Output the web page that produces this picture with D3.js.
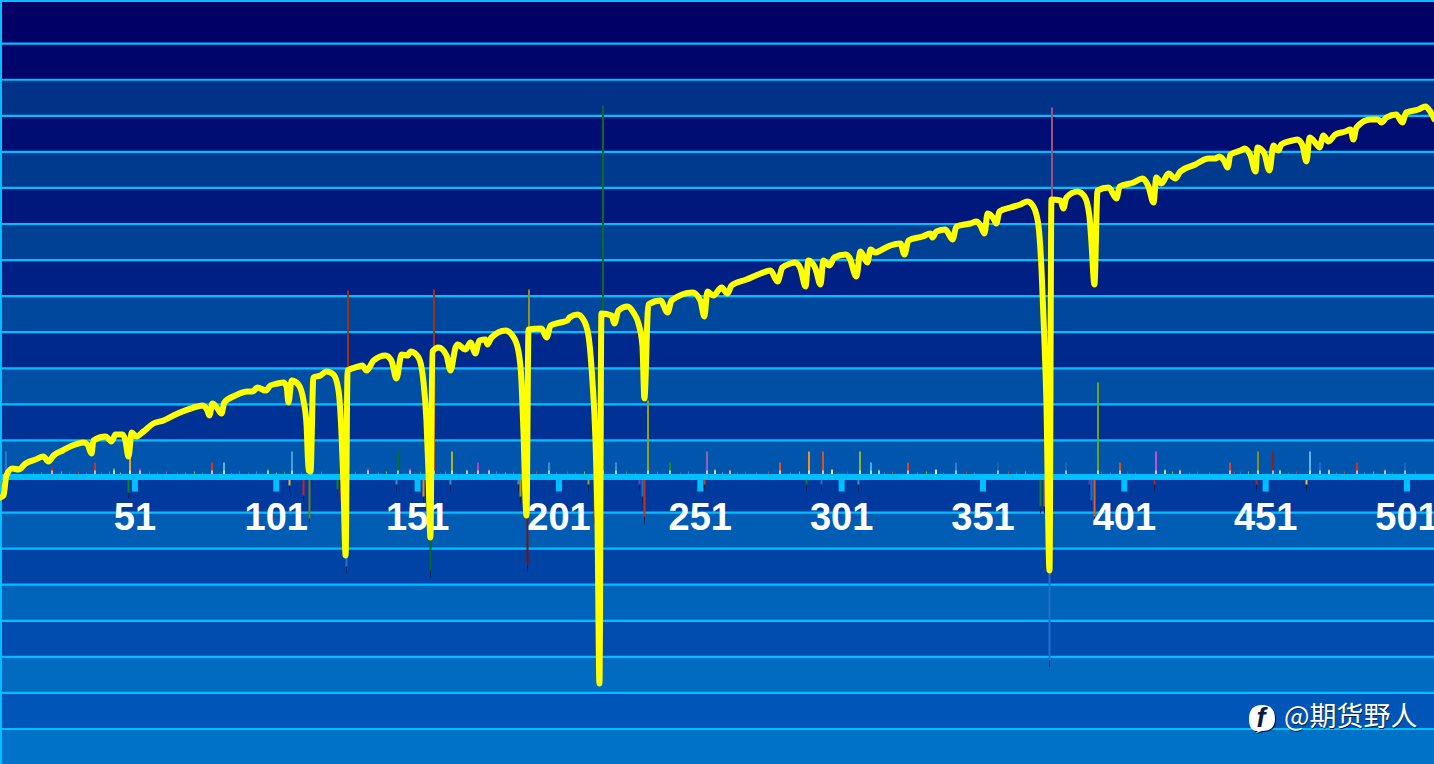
<!DOCTYPE html>
<html><head><meta charset="utf-8">
<script src="https://cdn.jsdelivr.net/npm/d3@7/dist/d3.min.js"></script>
<style>html,body{margin:0;padding:0;background:#003;overflow:hidden}svg{display:block}</style>
</head><body><svg id="c" width="1434" height="764"></svg>
<script>
const linePos=[2.6,3.7,4.7,6.9,9,11.5,15,17.8,19.6,21.4,24.6,28.1,32,33.4,34.8,35.5,39.8,41.9,43.3,45.8,46.8,47.9,49,50.7,53.2,56.7,60.3,63.8,67,72.3,74.1,75.8,76.5,77.6,79.4,80.8,81.8,85.7,90,91.8,93.5,96.4,98.1,100.6,102.7,103.8,104.5,105.6,108,109.8,110.9,111.6,112.3,113.3,115.8,117.9,120.4,122.2,123.2,123.9,124.7,125.4,129.3,130.6,132.1,134.6,138.8,140.9,142.7,144.5,146.6,147.7,150.5,152.2,153.3,154,154.7,155.4,157.6,160.4,161.8,163.6,164.3,167.1,168.9,170.6,172,174.2,174.9,176.3,181.3,183.7,185.8,186.9,187.6,188.7,189.4,194,195.8,197.2,200.7,203.2,203.9,206.7,208.8,210.6,212,213.1,213.8,214.5,215.2,218.8,219.8,221.2,224.4,226.5,228.3,229.7,230.4,231.8,236.1,238.6,240,247.4,250.2,251.6,252.7,254.8,257.7,259.8,261.2,266.5,271.5,275,277.5,279.2,282.1,283.8,285.6,287.4,288.4,290.9,292.7,293.7,295.9,297.6,301.5,302.9,305.4,306.8,309.3,310.4,312.1,313.9,317.4,321,322.4,323.8,328.8,331.6,332.3,333.7,336.9,339.4,340.8,345.7,347.9,349.3,350.7,351.8,353.9,354.9,356,359.9,363.4,365.9,368,369.8,370.9,371.9,372.6,373.7,374.4,377.6,378.6,379.7,383.6,386.1,387.8,388.5,389.6,390.7,394.6,397.4,398.5,403.4,406.6,408.7,410.5,411.5,413.3,415.8,418.2,420,425.3,429.9,432.4,433.8,435.6,436.7,437.7,441.3,442.7,444.8,446.6,447.3,449.7,451.5,452.9,454.7,455.7,459.7,461.4,463.2,464.6,465.7,468.5,469.2,470.6,472.4,474.8,478.4,480.2,481.2,482.3,487.2,490,491.1,492.9,496.4,498.5,499.9,504.2,506.7,508.4,509.9];
const lineVal=[-21,-19,1,8,7,13,17,20,15,21,26,31,34,32,23,36,40,35,42,42,36,20,44,40,45,53,56,61,65,70,71,66,61,73,68,63,74,81,85,85,89,86,91,93,94,90,74,96,92,76,51,6,5,99,101,105,102,86,46,-4,-79,106,110,111,106,116,121,116,98,122,121,125,119,96,56,6,-61,125,129,121,106,129,132,127,134,123,136,137,132,139,146,141,126,96,46,-39,147,148,139,151,154,156,159,162,157,141,96,36,-44,-207,163,161,153,166,170,164,153,131,78,172,176,164,176,184,176,160,185,181,189,183,191,197,203,206,195,209,213,214,208,190,216,208,192,216,211,219,222,219,200,225,214,227,224,226,231,233,222,236,240,243,239,245,247,237,250,253,255,251,243,263,258,253,265,269,272,275,270,251,206,136,76,-94,277,276,268,279,285,280,261,236,192,286,289,278,290,294,298,290,274,299,293,303,298,305,312,318,318,320,315,309,322,326,328,321,305,329,323,306,331,326,332,336,337,331,315,339,331,329,341,335,342,345,347,337,349,357,357,354,359,362,354,364,367,370,365,357];

const upPos=[4.6,20.9,35.9,42.9,48.6,51.8,77.6,81.8,97.4,105.9,125.7,132.8,143.4,147.6,155.8,162.5,167.5,171.7,175.6,189.7,196.5,215.7,220.5,231.7,239.6,252.7,255.5,260.8,278.5,288.8,293.7,296.6,306.8,310.7,313.5,323.8,333.7,340.8,355.6,374.7,379.7,390.7,398.5,411.5,414.7,419.7,437.7,447.6,452.6,455.4,465.7,469.5,472.7,482.6,492.5,499.6];
const upVal=[25,10,14,8,21,8,14,14,8,25,186,8,25,8,187,25,7,14,7,187,14,371,14,76,14,25,7,7,14,25,25,7,25,14,7,14,7,14,14,369,14,94,14,25,7,7,14,25,25,7,25,14,7,14,7,14];
const upColor=["#2a78c8","#b02a2a","#c0392b","#7fae2a","#f0a020","#a040c0","#e03020","#60b0e0","#109010","#40a0e0","#a03010","#a040a0","#0a7020","#c030c0","#a03010","#b0b020","#109030","#c040b0","#c03090","#909020","#3a90d8","#0a6a20","#3a90d8","#90a020","#109020","#9060c0","#a0a020","#c02020","#e05020","#f09020","#e05020","#f0c040","#90b030","#20c0e0","#10a030","#e04020","#e0d040","#2080e0","#2060b0","#a05080","#2060c0","#70a020","#d05020","#c050d0","#80a020","#c04020","#e04020","#809020","#902010","#109040","#60b0f0","#1070d0","#c08020","#d03020","#8050c0","#2060c0"];

const downPos=[47.9,104.8,109.8,111.9,121.8,122.9,124.7,142.7,152.2,161.8,185.8,186.5,189,154.7,210.3,212.7,228.6,229.7,230.4,251.6,287.7,292.7,305.8,370.5,371.6,373.7,387.8,388.5,389.6,410.5,446.6,464.6];
const downVal=[-16,-9,-19,-42,-13,-24,-90,-8,-20,-8,-8,-20,-89,-94,-8,-40,-8,-20,-40,-8,-8,-8,-8,-30,-30,-184,-8,-24,-40,-8,-8,-8];
const downColor=["#108030","#f0b030","#d02020","#708020","#108030","#d02020","#2070d0","#3a90d8","#e09020","#3a90d8","#3a90d8","#a0a020","#801010","#0a6a20","#a0a020","#c02020","#7040c0","#2070d0","#d03010","#d04020","#108030","#2070d0","#3a90d8","#108030","#a06040","#2070d0","#8030a0","#2070d0","#e06020","#c02020","#c02020","#f0c040"];

const tinyPos=[14,17,24,27,30,33,38,41,45,55,58,61,65,68,71,74,84,87,90,93,100,103,109,116,128,136,139,151,158,160,170,178,181,184,192,199,203,206,209,224,227,235,243,246,258,263,266,270,274,282,285,299,302,315,318,327,330,336,344,347,359,362,365,368,392,395,401,404,417,423,426,430,439,441,444,458,461,475,478,485,488,495,503];
const tinyVal=[4,4,5,4,5,4,4,5,4,5,4,5,4,4,5,4,4,5,4,5,4,5,4,5,5,4,5,5,4,5,4,5,4,5,5,4,5,4,5,5,4,5,4,5,4,4,5,4,5,4,5,4,5,4,5,4,5,4,5,4,5,4,5,4,5,4,5,4,5,4,5,4,5,4,5,4,5,4,5,4,5,4,5];
const tinyColor=["#d04020","#2090e0","#c0a020","#10a040","#d04020","#c040c0"];

const tickPos=[50,100,150,200,250,300,350,400,450,500];
const tickLabels=["51","101","151","201","251","301","351","401","451","501"];
const gridSteps=[-7,-6,-5,-4,-3,-2,-1,1,2,3,4,5,6,7,8,9,10,11,12];
const gridUnit=36.07;
const lightSteps=[-7,-5,-3,-1,1,3,5,7,9,11];
const watermark="@期货野人";

const W=1434,H=764;
const x=d3.scaleLinear().domain([2.62,509.9]).range([0.5,1434.5]);
const y=d3.scaleLinear().domain([476.5,-287.5]).range([0,764]);
const svg=d3.select("#c");

const lightCol=d3.scaleLinear().domain([80,729]).range(["#003388","#0072c8"]);
const darkCol=d3.scaleLinear().domain([0,693]).range(["#000066","#0055b8"]);

const allLevels=[-8,-7,-6,-5,-4,-3,-2,-1,0,1,2,3,4,5,6,7,8,9,10,11,12,13.2];
svg.append("g").selectAll("rect").data(allLevels.slice(1)).join("rect")
  .attr("x",0).attr("width",W)
  .attr("y",d=>y(d*gridUnit))
  .attr("height",(d,i)=>y(allLevels[i]*gridUnit)-y(d*gridUnit))
  .attr("fill",d=>{
     const top=y(d*gridUnit);
     return lightSteps.includes(d)?lightCol(top):darkCol(Math.max(0,top));
  });

const sky="#00bfff";
svg.append("g").selectAll("line").data(gridSteps).join("line")
  .attr("x1",0).attr("x2",W)
  .attr("y1",d=>y(d*gridUnit)).attr("y2",d=>y(d*gridUnit))
  .attr("stroke",sky).attr("stroke-width",2.2);
svg.append("line").attr("x1",0).attr("x2",W).attr("y1",1).attr("y2",1).attr("stroke",sky).attr("stroke-width",2);
svg.append("line").attr("x1",1).attr("x2",1).attr("y1",0).attr("y2",H).attr("stroke",sky).attr("stroke-width",2);

svg.append("g").selectAll("rect").data(tinyPos).join("rect")
  .attr("x",d=>Math.round(x(d))).attr("width",1)
  .attr("y",(d,i)=>y(tinyVal[i])).attr("height",(d,i)=>y(0)-y(tinyVal[i]))
  .attr("fill",(d,i)=>tinyColor[i%tinyColor.length]);

const ups=svg.append("g");
ups.selectAll("rect.s").data(upPos).join("rect").attr("class","s")
  .attr("x",d=>Math.round(x(d))-1).attr("width",2)
  .attr("y",(d,i)=>y(upVal[i])).attr("height",(d,i)=>y(0)-y(upVal[i]))
  .attr("fill",(d,i)=>upColor[i]);
ups.selectAll("rect.b").data(upPos).join("rect").attr("class","b")
  .attr("x",d=>Math.round(x(d))-1).attr("width",2)
  .attr("y",(d,i)=>y(Math.min(upVal[i],6))).attr("height",(d,i)=>y(0)-y(Math.min(upVal[i],6)))
  .attr("fill","#fff").attr("opacity",0.6);

const downs=svg.append("g");
downs.selectAll("rect.t").data(downPos).join("rect").attr("class","t")
  .attr("x",d=>Math.round(x(d))).attr("width",1)
  .attr("y",y(0)).attr("height",(d,i)=>y(downVal[i]-7)-y(0))
  .attr("fill","#0a2460");
downs.selectAll("rect.s").data(downPos).join("rect").attr("class","s")
  .attr("x",d=>Math.round(x(d))-0.5).attr("width",2)
  .attr("y",y(0)).attr("height",(d,i)=>y(downVal[i])-y(0))
  .attr("fill",(d,i)=>downColor[i]);

const axis=d3.axisBottom(x).tickValues(tickPos)
  .tickFormat(d=>tickLabels[tickPos.indexOf(d)]).tickSize(15).tickSizeOuter(0);
const ax=svg.append("g").attr("transform",`translate(0,${y(0)})`).call(axis);
ax.select(".domain").attr("stroke",sky).attr("stroke-width",6);
ax.selectAll(".tick line").attr("stroke",sky).attr("stroke-width",6);
ax.selectAll(".tick text").attr("y",53.5).attr("dy",0).attr("fill","#fff")
  .attr("font-family","'Liberation Sans',Arial,sans-serif").attr("font-weight","bold").attr("font-size",38);

const line=d3.line().x((d,i)=>x(linePos[i])).y(d=>y(d)).curve(d3.curveMonotoneX);
svg.append("path").datum(lineVal).attr("d",line)
  .attr("fill","none").attr("stroke","#ffff00").attr("stroke-width",6)
  .attr("stroke-linejoin","round").attr("stroke-linecap","round");

const wm=svg.append("g");
const bubble="M1256 733 L1258 731 Q1249 732 1249 719 Q1249 705 1262 705 Q1275 705 1275 719 Q1275 731 1262 731 Z";
wm.append("path").attr("d",bubble).attr("transform","translate(1,1)").attr("fill","#02123c");
wm.append("path").attr("d",bubble).attr("fill","#fff");
wm.append("text").attr("x",1261).attr("y",727).attr("text-anchor","middle")
  .attr("font-family","'Liberation Sans',sans-serif").attr("font-style","italic").attr("font-weight","bold")
  .attr("font-size",27).attr("fill","#0a1a40").text("f");
wm.append("text").attr("x",1284.8).attr("y",726.8).attr("font-family","'Noto Sans CJK SC',sans-serif")
  .attr("font-size",27).attr("fill","#10203c").text(watermark);
wm.append("text").attr("x",1284).attr("y",726).attr("font-family","'Noto Sans CJK SC',sans-serif")
  .attr("font-size",27).attr("fill","#fff").text(watermark);
</script></body></html>
